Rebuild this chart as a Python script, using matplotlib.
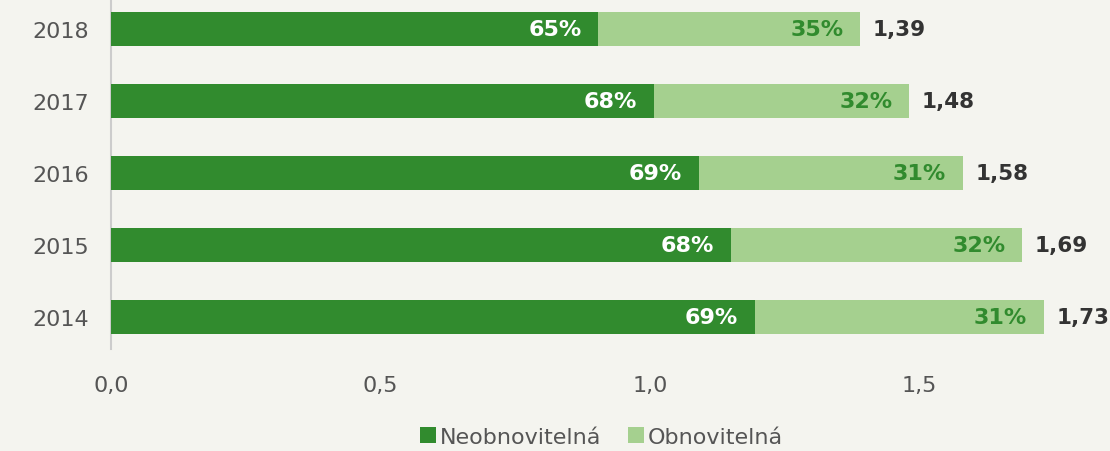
import matplotlib
matplotlib.use("Agg")
import matplotlib.pyplot as plt
from matplotlib.patches import Patch

years = ["2014", "2015", "2016", "2017", "2018"]
totals = [1.73, 1.69, 1.58, 1.48, 1.39]
nonrenew_pct = [69, 68, 69, 68, 65]
renew_pct = [31, 32, 31, 32, 35]
xticks = [0.0, 0.5, 1.0, 1.5]
xtick_labels = ["0,0", "0,5", "1,0", "1,5"]
series_names = ["Neobnovitelná", "Obnovitelná"]

dark = "#318b2e"
light = "#a5d08f"
bg = "#f4f4ef"

plt.rcParams['font.family'] = ['DejaVu Sans']

fig = plt.figure(figsize=(11.1, 4.52), dpi=100, facecolor=bg)
ax = fig.add_axes([0.1, 0.2257, 0.9, 0.7743])
ax.set_facecolor(bg)

ypos = list(range(len(years)))
nonrenew = [t * p / 100 for t, p in zip(totals, nonrenew_pct)]
renew = [t * p / 100 for t, p in zip(totals, renew_pct)]

ax.barh(ypos, nonrenew, height=0.47, color=dark, zorder=3)
ax.barh(ypos, renew, left=nonrenew, height=0.47, color=light, zorder=3)

for y, a, b, t, pa, pb in zip(ypos, nonrenew, renew, totals, nonrenew_pct, renew_pct):
    ax.annotate(f"{pa}%", (a, y), xytext=(-12, 0), textcoords="offset points",
                ha="right", va="center", color="white", fontsize=16, fontweight="bold", zorder=4)
    ax.annotate(f"{pb}%", (a + b, y), xytext=(-12, 0), textcoords="offset points",
                ha="right", va="center", color=dark, fontsize=16, fontweight="bold", zorder=4)
    ax.annotate(f"{t:.2f}".replace(".", ","), (a + b, y), xytext=(9, 0), textcoords="offset points",
                ha="left", va="center", color="#333333", fontsize=15.5, fontweight="bold", zorder=4)

ax.set_xlim(0, 1.853)
ax.set_ylim(-0.444, 4.417)
ax.set_yticks(ypos)
ax.set_yticklabels(years, color="#555555", fontsize=16)
ax.set_xticks(xticks)
ax.set_xticklabels(xtick_labels, color="#555555", fontsize=16)
ax.tick_params(axis="both", length=0)
ax.tick_params(axis="y", pad=16)
ax.tick_params(axis="x", pad=19)
for s in ["top", "right", "bottom"]:
    ax.spines[s].set_visible(False)
ax.spines["left"].set_color("#cccccc")
ax.spines["left"].set_linewidth(1.5)

handles = [Patch(facecolor=dark, label=series_names[0]),
           Patch(facecolor=light, label=series_names[1])]
fig.legend(handles=handles, loc="lower center", bbox_to_anchor=(0.542, -0.035), ncol=2,
           frameon=False, fontsize=16, handlelength=0.7, handleheight=0.7,
           handletextpad=0.2, columnspacing=1.2, labelcolor="#555555")

fig.savefig("out.png", dpi=100, facecolor=bg)
